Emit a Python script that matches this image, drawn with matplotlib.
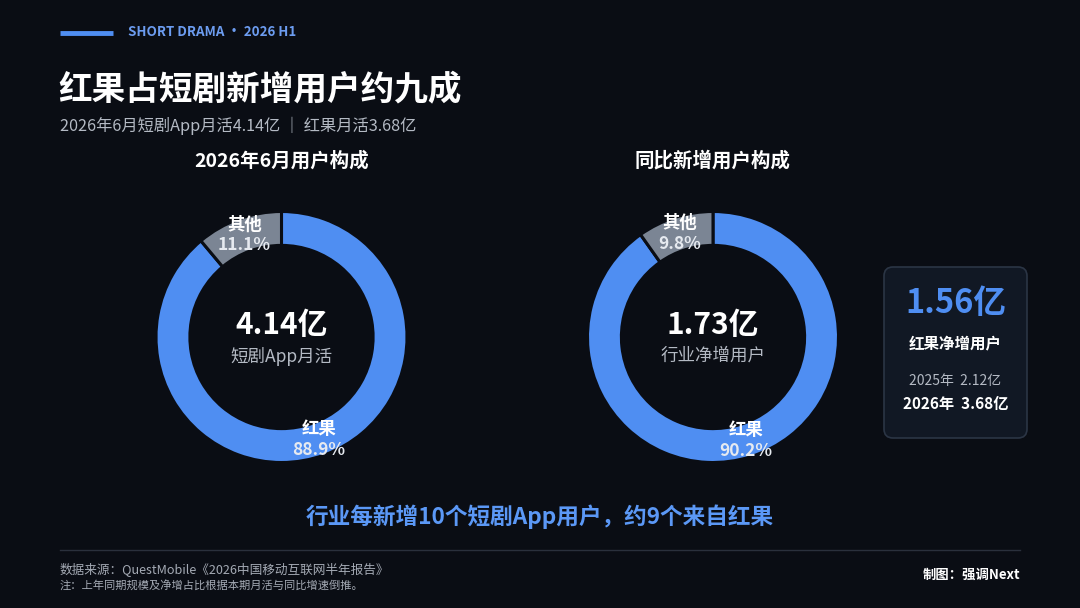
import numpy as np
import matplotlib.pyplot as plt
from matplotlib.patches import FancyBboxPatch

plt.rcParams['font.family'] = ['Noto Sans CJK SC', 'DejaVu Sans']

# data
categories = ['红果', '其他']
share_mau = [88.9, 11.1]       # 2026年6月用户构成 (%)
share_new = [90.2, 9.8]        # 同比新增用户构成 (%)
center_values = ['4.14亿', '1.73亿']
center_labels = ['短剧App月活', '行业净增用户']
chart_titles = ['2026年6月用户构成', '同比新增用户构成']
card_value = '1.56亿'
card_label = '红果净增用户'
card_rows = [('2025年', '2.12亿'), ('2026年', '3.68亿')]

# colours
BG = '#0a0d14'
BLUE = '#4f8ef2'
GREY = '#7b8594'
TEXT_GREY = '#b4bac4'

W, H = 1080, 608
fig = plt.figure(figsize=(W / 100, H / 100), dpi=100, facecolor=BG)

# background axes in pixel coordinates
bg = fig.add_axes([0, 0, 1, 1])
bg.set_xlim(0, W)
bg.set_ylim(H, 0)
bg.axis('off')
bg.set_facecolor(BG)

# header
bg.plot([60, 113], [33, 33], color=BLUE, lw=3.5, solid_capstyle='butt')
bg.text(128, 32, 'SHORT DRAMA · 2026 H1', color='#6c9cf0', fontsize=9.6,
        fontweight='bold', va='center', ha='left')
bg.text(58, 90, '红果占短剧新增用户约九成', color='white', fontsize=24.2,
        fontweight='bold', va='center', ha='left')
bg.text(60, 126, '2026年6月短剧App月活4.14亿 ｜ 红果月活3.68亿', color=TEXT_GREY,
        fontsize=11.7, va='center', ha='left')


def donut(cx, cy, r, values, title, big, small):
    ax = fig.add_axes([(cx - r) / W, (H - cy - r) / H, 2 * r / W, 2 * r / H])
    ax.pie(values, colors=[BLUE, GREY], startangle=90, counterclock=False,
           radius=1, wedgeprops=dict(width=0.27, edgecolor=BG, linewidth=2.2))
    ax.set_xlim(-1, 1)
    ax.set_ylim(-1, 1)
    ax.set_aspect('equal')
    ax.axis('off')
    # segment labels at mid-ring
    start = 90.0
    mid_r = 1 - 0.27 / 2
    off = 10.5 / r
    for name, v in zip(categories, values):
        mid = np.deg2rad(start - v * 3.6 / 2)
        start -= v * 3.6
        x, y = mid_r * np.cos(mid), mid_r * np.sin(mid)
        ax.text(x, y + off, name, color='white', fontsize=12.5, fontweight='bold',
                ha='center', va='center')
        ax.text(x, y - off, f'{v:.1f}%', color='#e6eaf0', fontsize=12.5,
                fontweight='bold', ha='center', va='center')
    bg.text(cx, 161, title, color='white', fontsize=14, fontweight='bold',
            ha='center', va='center')
    bg.text(cx, 325, big, color='white', fontsize=21.5, fontweight='bold',
            ha='center', va='center')
    bg.text(cx, 356, small, color=TEXT_GREY, fontsize=12.6,
            ha='center', va='center')


donut(281.5, 337, 125.5, share_mau, chart_titles[0], center_values[0], center_labels[0])
donut(713, 337, 125.5, share_new, chart_titles[1], center_values[1], center_labels[1])

# right card
card = FancyBboxPatch((884, 267), 143, 171, boxstyle='round,pad=0,rounding_size=9',
                      facecolor='#111824', edgecolor='#2b3545', linewidth=1.2)
bg.add_patch(card)
bg.text(955.5, 303, card_value, color=BLUE, fontsize=23.5, fontweight='bold',
        ha='center', va='center')
bg.text(955.5, 343, card_label, color='white', fontsize=11.2, fontweight='bold',
        ha='center', va='center')
bg.text(955.5, 381, f'{card_rows[0][0]}  {card_rows[0][1]}', color=TEXT_GREY,
        fontsize=10, ha='center', va='center')
bg.text(955.5, 404, f'{card_rows[1][0]}  {card_rows[1][1]}', color='white',
        fontsize=11, fontweight='bold', ha='center', va='center')

# key message
bg.text(540, 517, '行业每新增10个短剧App用户，约9个来自红果', color='#5b98f6',
        fontsize=16.3, fontweight='bold', ha='center', va='center')

# footer
bg.plot([60, 1020], [550, 550], color='#2a303c', lw=1)
bg.text(60, 569, '数据来源：QuestMobile《2026中国移动互联网半年报告》', color='#a4aab4',
        fontsize=9.1, ha='left', va='center')
bg.text(60, 586, '注：上年同期规模及净增占比根据本期月活与同比增速倒推。', color='#a4aab4',
        fontsize=8.1, ha='left', va='center')
bg.text(1020, 575, '制图：强调Next', color='white', fontsize=9.6, fontweight='bold',
        ha='right', va='center')

fig.savefig('out.png', dpi=100, facecolor=BG)
